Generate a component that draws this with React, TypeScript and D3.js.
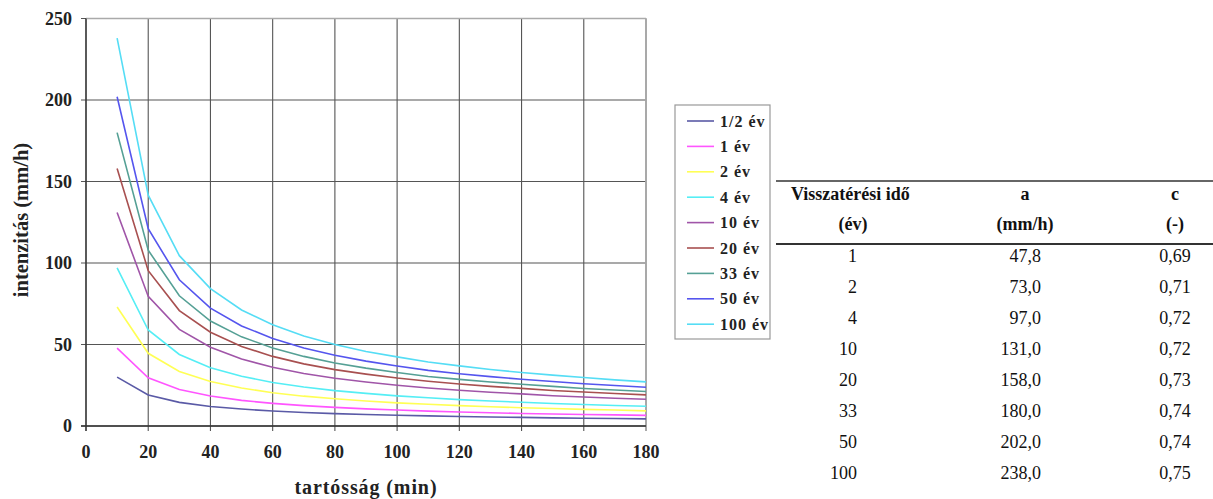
import React from "react";
import * as d3 from "d3";

const durations = [10, 20, 30, 40, 50, 60, 70, 80, 90, 100, 110, 120, 130, 140, 150, 160, 170, 180];
const seriesNames = ["1/2 év", "1 év", "2 év", "4 év", "10 év", "20 év", "33 év", "50 év", "100 év"];
const seriesColors = ["#5a5aa6", "#ff55ff", "#ffff55", "#55eef5", "#a055a8", "#a85050", "#55a095", "#5555ee", "#55ddf5"];

const sHalf = [30, 19.0, 14.5, 12.0, 10.4, 9.2, 8.3, 7.6, 7.1, 6.6, 6.2, 5.8, 5.5, 5.3, 5.0, 4.8, 4.6, 4.4];
const s1 = [47.8, 29.6, 22.4, 18.4, 15.7, 13.9, 12.5, 11.4, 10.5, 9.8, 9.1, 8.6, 8.1, 7.7, 7.4, 7.1, 6.8, 6.5];
const s2 = [73, 44.6, 33.4, 27.3, 23.3, 20.4, 18.3, 16.7, 15.3, 14.2, 13.3, 12.5, 11.8, 11.2, 10.7, 10.2, 9.8, 9.3];
const s4 = [97, 58.9, 43.9, 35.8, 30.5, 26.7, 23.9, 21.7, 20.0, 18.5, 17.3, 16.2, 15.3, 14.6, 13.8, 13.2, 12.6, 12.1];
const s10 = [131, 79.5, 59.3, 48.3, 41.1, 36.0, 32.2, 29.3, 27.0, 25.0, 23.3, 21.9, 20.7, 19.7, 18.6, 17.8, 17.0, 16.4];
const s20 = [158, 95.3, 70.8, 57.5, 48.8, 42.7, 38.1, 34.6, 31.8, 29.4, 27.5, 25.8, 24.3, 23.1, 21.8, 20.9, 19.9, 19.1];
const s33 = [180, 107.8, 79.9, 64.4, 54.7, 47.9, 42.7, 38.7, 35.5, 32.8, 30.4, 28.6, 27.0, 25.6, 24.3, 23.0, 22.1, 21.2];
const s50 = [202, 121.0, 89.7, 72.3, 61.4, 53.7, 47.9, 43.4, 39.8, 36.8, 34.1, 32.1, 30.3, 28.7, 27.3, 25.9, 24.8, 23.8];
const s100 = [238, 141.6, 104.5, 84.3, 71.2, 62.1, 55.2, 50.0, 45.7, 42.4, 39.3, 36.9, 34.7, 32.8, 31.2, 29.8, 28.3, 27.1];
const allSeries = [sHalf, s1, s2, s4, s10, s20, s33, s50, s100];

const xTicks = [0, 20, 40, 60, 80, 100, 120, 140, 160, 180];
const yTicks = [0, 50, 100, 150, 200, 250];
const xTitle = "tartósság (min)";
const yTitle = "intenzitás (mm/h)";

const tableHeader1 = ["Visszatérési idő", "a", "c"];
const tableHeader2 = ["(év)", "(mm/h)", "(-)"];
const tableYears = ["1", "2", "4", "10", "20", "33", "50", "100"];
const tableA = ["47,8", "73,0", "97,0", "131,0", "158,0", "180,0", "202,0", "238,0"];
const tableC = ["0,69", "0,71", "0,72", "0,72", "0,73", "0,74", "0,74", "0,75"];

const W = 1213;
const H = 499;
const serif = "'Liberation Serif', 'Times New Roman', serif";

export default function App() {
  const x = d3.scaleLinear().domain([0, 180]).range([86, 646]);
  const y = d3.scaleLinear().domain([0, 250]).range([426, 18.5]);
  const line = d3
    .line<number>()
    .x((_, i) => x(durations[i]))
    .y((d) => y(d));

  const legendX = 675;
  const legendY = 105;
  const legendRow = 25.4;
  const rowY0 = 262;
  const rowStep = 31;

  return (
    <svg
      width={W}
      height={H}
      style={{ position: "absolute", left: 0, top: 0, background: "#fff" }}
      fontFamily={serif}
    >
      <rect x={0} y={0} width={W} height={H} fill="#fff" />
      {xTicks.map((t) => (
        <line key={"gx" + t} x1={x(t)} x2={x(t)} y1={y(250)} y2={y(0) + 5} stroke="#555" strokeWidth={1.1} />
      ))}
      {yTicks.map((t) => (
        <line key={"gy" + t} x1={x(0) - 5} x2={x(180)} y1={y(t)} y2={y(t)} stroke="#555" strokeWidth={1.1} />
      ))}
      <line x1={x(0)} x2={x(180)} y1={y(250)} y2={y(250)} stroke="#aaa" strokeWidth={1.5} />
      <line x1={x(180)} x2={x(180)} y1={y(250)} y2={y(0) + 5} stroke="#aaa" strokeWidth={1.8} />
      <line x1={x(0)} x2={x(0)} y1={y(250)} y2={y(0) + 5} stroke="#333" strokeWidth={1.3} />
      <line x1={x(0) - 5} x2={x(180)} y1={y(0)} y2={y(0)} stroke="#333" strokeWidth={1.3} />
      {allSeries.map((s, i) => (
        <path key={"s" + i} d={line(s) || ""} fill="none" stroke={seriesColors[i]} strokeWidth={1.6} />
      ))}
      {yTicks.map((t) => (
        <text key={"ty" + t} x={72} y={y(t)} dy="0.35em" textAnchor="end" fontSize={18} fontWeight="bold" fill="#222">
          {t}
        </text>
      ))}
      {xTicks.map((t) => (
        <text key={"tx" + t} x={x(t)} y={458} textAnchor="middle" fontSize={18} fontWeight="bold" fill="#222">
          {t}
        </text>
      ))}
      <text x={366} y={494} textAnchor="middle" fontSize={20} fontWeight="bold" letterSpacing={0.9} fill="#222">
        {xTitle}
      </text>
      <text
        transform={`translate(28, 220) rotate(-90)`}
        textAnchor="middle"
        fontSize={20.5}
        fontWeight="bold"
        fill="#222"
      >
        {yTitle}
      </text>
      <rect x={legendX} y={legendY} width={95} height={234} fill="#fff" stroke="#999" strokeWidth={1.2} />
      {seriesNames.map((n, i) => {
        const cy = legendY + 16 + i * legendRow;
        return (
          <g key={"lg" + i}>
            <line x1={legendX + 12} x2={legendX + 39} y1={cy} y2={cy} stroke={seriesColors[i]} strokeWidth={1.6} />
            <text x={legendX + 45} y={cy} dy="0.35em" fontSize={16} fontWeight="bold" letterSpacing={1} fill="#222">
              {n}
            </text>
          </g>
        );
      })}
      <line x1={776} x2={1213} y1={181} y2={181} stroke="#333" strokeWidth={1.5} />
      <line x1={776} x2={1213} y1={244} y2={244} stroke="#333" strokeWidth={2} />
      <text x={791} y={200} fontSize={18} fontWeight="bold" fill="#111">{tableHeader1[0]}</text>
      <text x={1025} y={200} textAnchor="middle" fontSize={18} fontWeight="bold" fill="#111">{tableHeader1[1]}</text>
      <text x={1175} y={200} textAnchor="middle" fontSize={18} fontWeight="bold" fill="#111">{tableHeader1[2]}</text>
      <text x={853} y={230} textAnchor="middle" fontSize={18} fontWeight="bold" fill="#111">{tableHeader2[0]}</text>
      <text x={1025} y={230} textAnchor="middle" fontSize={18} fontWeight="bold" fill="#111">{tableHeader2[1]}</text>
      <text x={1175} y={230} textAnchor="middle" fontSize={18} fontWeight="bold" fill="#111">{tableHeader2[2]}</text>
      {tableYears.map((v, i) => (
        <g key={"tr" + i}>
          <text x={857} y={rowY0 + i * rowStep} textAnchor="end" fontSize={18} fill="#111">{v}</text>
          <text x={1041} y={rowY0 + i * rowStep} textAnchor="end" fontSize={18} fill="#111">{tableA[i]}</text>
          <text x={1175} y={rowY0 + i * rowStep} textAnchor="middle" fontSize={18} fill="#111">{tableC[i]}</text>
        </g>
      ))}
    </svg>
  );
}
